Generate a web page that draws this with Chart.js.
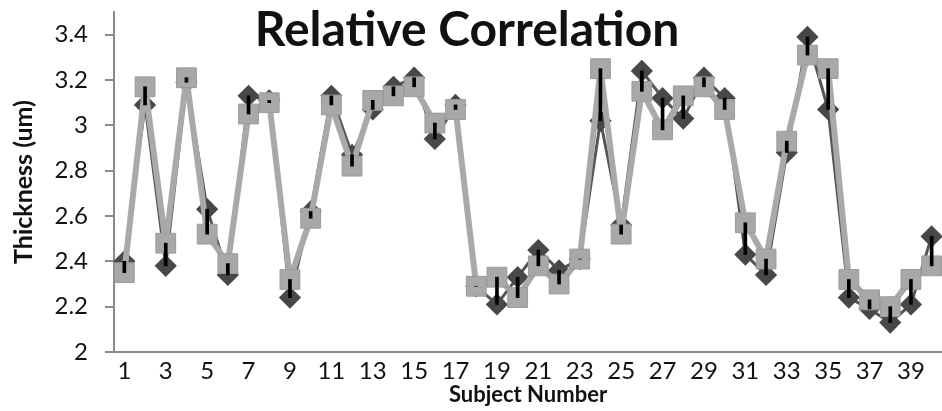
<!DOCTYPE html>
<html>
<head>
<meta charset="utf-8">
<script src="https://cdn.jsdelivr.net/npm/chart.js@4"></script>
<style>
  html, body { margin: 0; padding: 0; background: #fff; }
  #wrap { width: 942px; height: 411px; }
</style>
</head>
<body>
<div id="wrap"><canvas id="canvas"></canvas></div>
<script>
// subject numbers 1..40
const subjects = ['1','2','3','4','5','6','7','8','9','10','11','12','13','14','15','16','17','18','19','20',
  '21','22','23','24','25','26','27','28','29','30','31','32','33','34','35','36','37','38','39','40'];

// dark diamonds
const diamondValues = [2.40, 3.09, 2.38, 3.19, 2.63, 2.34, 3.13, 3.11, 2.24, 2.62,
  3.13, 2.87, 3.07, 3.17, 3.21, 2.94, 3.09, 2.29, 2.21, 2.33,
  2.45, 2.36, 2.41, 3.02, 2.56, 3.24, 3.12, 3.03, 3.21, 3.12,
  2.43, 2.34, 2.88, 3.39, 3.07, 2.24, 2.19, 2.13, 2.21, 2.51];

// light squares
const squareValues = [2.35, 3.17, 2.48, 3.21, 2.52, 2.39, 3.05, 3.10, 2.32, 2.59,
  3.09, 2.82, 3.11, 3.13, 3.17, 3.01, 3.07, 2.29, 2.33, 2.24,
  2.38, 2.30, 2.41, 3.25, 2.52, 3.15, 2.98, 3.13, 3.17, 3.07,
  2.57, 2.41, 2.93, 3.31, 3.25, 2.32, 2.23, 2.20, 2.32, 2.38];

const yTicks = [2, 2.2, 2.4, 2.6, 2.8, 3, 3.2, 3.4];

const font = 'Lato, "Open Sans", sans-serif';

// black line between the two readings of each subject
const spans = diamondValues.map((d, i) => [Math.min(d, squareValues[i]), Math.max(d, squareValues[i])]);

const titlePlugin = {
  id: 'overlayTitle',
  afterDraw(chart) {
    const c = chart.ctx;
    c.save();
    c.fillStyle = '#111';
    c.font = 'bold 48px ' + font;
    c.textAlign = 'center';
    c.textBaseline = 'alphabetic';
    c.fillText('Relative Correlation', chart.width / 2 - 4, 46);
    c.restore();
  }
};

const ctx = document.getElementById('canvas');
new Chart(ctx, {
  type: 'line',
  data: {
    labels: subjects,
    datasets: [
      {
        type: 'bar',
        data: spans,
        backgroundColor: '#000',
        barThickness: 3,
        order: 0
      },
      {
        data: squareValues,
        borderColor: '#a9a9a9',
        borderWidth: 6,
        borderJoinStyle: 'round',
        borderCapStyle: 'round',
        pointStyle: 'rect',
        pointRadius: 14,
        pointBackgroundColor: '#a8a8a8',
        pointBorderColor: '#9a9a9a',
        pointBorderWidth: 1,
        tension: 0,
        clip: false,
        order: 1
      },
      {
        data: diamondValues,
        borderColor: '#555',
        borderWidth: 3,
        borderJoinStyle: 'round',
        pointStyle: 'rectRot',
        pointRadius: 9,
        pointBackgroundColor: '#484848',
        pointBorderColor: '#484848',
        tension: 0,
        clip: false,
        order: 2
      }
    ]
  },
  options: {
    responsive: true,
    maintainAspectRatio: false,
    animation: false,
    layout: { autoPadding: false, padding: 0 },
    plugins: {
      legend: { display: false },
      tooltip: { enabled: false }
    },
    scales: {
      x: {
        offset: true,
        afterFit: (axis) => { axis.height = 59; axis.paddingLeft = 0; axis.paddingRight = 0; },
        grid: { display: false, drawTicks: false, tickLength: 0 },
        border: { color: '#8a8a8a', width: 2 },
        ticks: {
          autoSkip: false,
          maxRotation: 0,
          color: '#111',
          font: { family: font, size: 24, lineHeight: 1 },
          padding: 7,
          callback: (v, i) => (i % 2 === 0 ? subjects[i] : '')
        },
        title: {
          display: true,
          text: 'Subject Number',
          color: '#111',
          font: { family: font, size: 22, weight: 'bold', lineHeight: 1 },
          padding: { top: 0, bottom: 5 }
        }
      },
      y: {
        min: 2,
        max: 3.5,
        afterBuildTicks: (axis) => { axis.ticks = yTicks.map(v => ({ value: v })); },
        afterFit: (axis) => { axis.width = 114; axis.paddingTop = 12; axis.paddingBottom = 0; },
        grid: { drawOnChartArea: false, drawTicks: true, tickLength: 9, color: '#8a8a8a', lineWidth: 2 },
        border: { color: '#8a8a8a', width: 2 },
        ticks: {
          color: '#111',
          font: { family: font, size: 24 },
          padding: 17,
          callback: (v) => +v.toFixed(1)
        },
        title: {
          display: true,
          text: 'Thickness (um)',
          color: '#111',
          font: { family: font, size: 25, weight: 'bold' },
          padding: { top: 9, bottom: 0 }
        }
      }
    }
  },
  plugins: [titlePlugin]
});
</script>
</body>
</html>
